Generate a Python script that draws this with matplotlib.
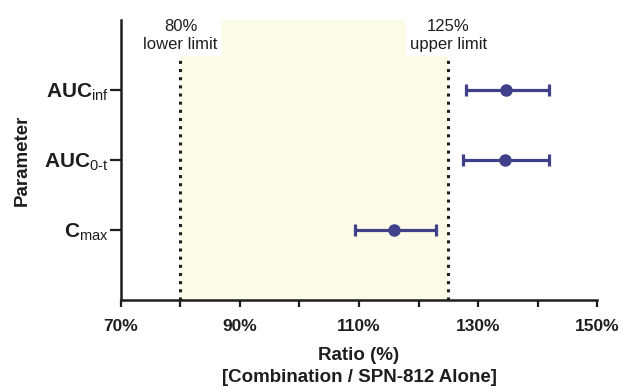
import matplotlib
matplotlib.use("Agg")
import matplotlib.pyplot as plt

plt.rcParams["font.family"] = ["Liberation Sans", "DejaVu Sans"]
plt.rcParams["mathtext.fontset"] = "custom"
plt.rcParams["mathtext.rm"] = "Liberation Sans"
plt.rcParams["mathtext.it"] = "Liberation Sans"
plt.rcParams["mathtext.bf"] = "Liberation Sans:bold"

# data
params = [r"$\mathbf{C}_{\mathrm{max}}$", r"$\mathbf{AUC}_{\mathrm{0\text{-}t}}$", r"$\mathbf{AUC}_{\mathrm{inf}}$"]
ratio = [115.9, 134.6, 134.7]
ci_low = [109.4, 127.5, 127.9]
ci_high = [122.9, 141.9, 141.9]
lower_limit = 80
upper_limit = 125
xticks = [70, 80, 90, 100, 110, 120, 130, 140, 150]
xticklabels = ["70%", "", "90%", "", "110%", "", "130%", "", "150%"]

navy = "#40408a"
ink = "#1e1e1e"
ypos = [1, 2, 3]

fig = plt.figure(figsize=(6.23, 3.87), dpi=100)
ax = fig.add_axes([0.1942, 0.2248, 0.7641, 0.7235])

ax.axvspan(lower_limit, upper_limit, color="#fcfbe8", zorder=0, lw=0)
for lim in (lower_limit, upper_limit):
    ax.plot([lim, lim], [0, 3.43], ls=(0, (1, 1.67)), color=ink, lw=2.2,
            dash_capstyle="butt", zorder=1)

for lim, txt in ((lower_limit, "80%\nlower limit"), (upper_limit, "125%\nupper limit")):
    ax.text(lim, 3.78, txt, ha="center", va="center", fontsize=12, color=ink,
            linespacing=1.25, bbox=dict(facecolor="white", edgecolor="none", pad=3),
            zorder=3)

xerr = [[r - lo for r, lo in zip(ratio, ci_low)], [hi - r for r, hi in zip(ratio, ci_high)]]
ax.errorbar(ratio, ypos, xerr=xerr, fmt="o", color=navy, ms=8, elinewidth=2.3,
            capsize=4.5, capthick=2.3, zorder=4)

ax.set_xlim(70, 150)
ax.set_ylim(0, 4)
ax.set_xticks(xticks)
ax.set_xticklabels(xticklabels, fontsize=12.5, fontweight="bold", color=ink)
ax.set_yticks(ypos)
ax.set_yticklabels(params, fontsize=15, color=ink)
ax.tick_params(axis="x", length=5, width=1.6, pad=9, color=ink)
ax.tick_params(axis="y", length=8, width=1.6, pad=1, color=ink)

for s in ("top", "right"):
    ax.spines[s].set_visible(False)
for s in ("left", "bottom"):
    ax.spines[s].set_linewidth(1.8)
    ax.spines[s].set_color(ink)

ax.set_xlabel("Ratio (%)\n[Combination / SPN-812 Alone]", fontsize=13.5,
              fontweight="bold", color=ink, labelpad=9, linespacing=1.4)
ax.set_ylabel("Parameter", fontsize=13.5, fontweight="bold", color=ink)
ax.yaxis.set_label_coords(-0.189, 0.5)

fig.savefig("out.png", dpi=100)
